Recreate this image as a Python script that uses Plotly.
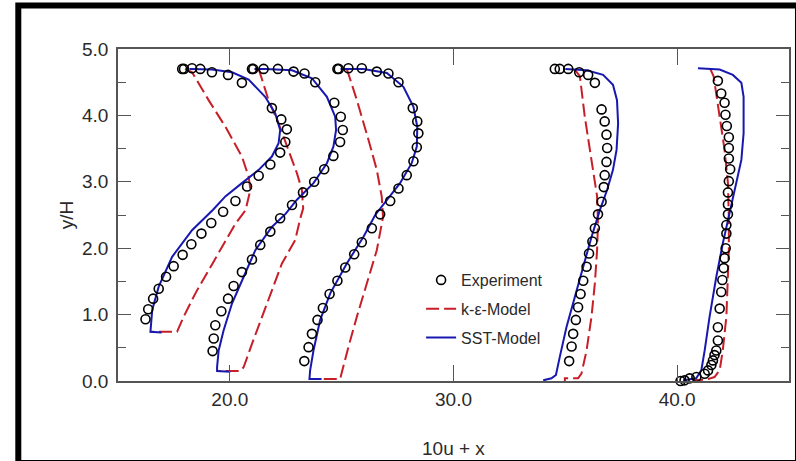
import plotly.graph_objects as go

# ---------------- data (10u + x , y/H) ----------------
exp1_x = [17.87, 17.95, 18.31, 18.68, 19.20, 19.92, 20.54, 21.88, 22.30, 22.55, 22.48, 22.25, 21.81, 21.29, 20.77, 20.25, 19.70, 19.17, 18.73, 18.28, 17.89, 17.49, 17.15, 16.82, 16.57, 16.35, 16.23]
exp1_y = [4.70, 4.70, 4.71, 4.70, 4.65, 4.61, 4.49, 4.11, 3.94, 3.79, 3.60, 3.44, 3.26, 3.09, 2.93, 2.71, 2.55, 2.38, 2.22, 2.06, 1.90, 1.73, 1.57, 1.39, 1.24, 1.08, 0.93]
sst1_x = [18.20, 19.20, 20.10, 20.84, 21.58, 22.03, 22.25, 22.18, 21.88, 21.29, 20.54, 19.80, 19.25, 18.80, 18.31, 17.42, 16.82, 16.53, 16.45, 16.45, 16.95]
sst1_y = [4.70, 4.69, 4.65, 4.54, 4.28, 4.03, 3.78, 3.58, 3.38, 3.18, 2.98, 2.78, 2.58, 2.43, 2.27, 1.87, 1.42, 1.07, 0.76, 0.74, 0.73]
ke1_x = [18.00, 18.31, 19.05, 19.80, 20.54, 20.84, 20.92, 20.70, 20.25, 19.65, 19.05, 18.46, 17.94, 17.64, 16.45]
ke1_y = [4.70, 4.65, 4.23, 3.83, 3.38, 3.08, 2.88, 2.57, 2.37, 2.02, 1.67, 1.32, 0.97, 0.74, 0.74]

exp2_x = [20.99, 21.05, 21.51, 22.15, 22.85, 23.34, 23.82, 24.67, 24.96, 25.05, 24.93, 24.63, 24.22, 23.77, 23.27, 22.78, 22.25, 21.81, 21.36, 20.99, 20.54, 20.17, 19.92, 19.62, 19.35, 19.28, 19.23]
exp2_y = [4.70, 4.70, 4.70, 4.70, 4.66, 4.63, 4.50, 4.19, 3.98, 3.78, 3.60, 3.39, 3.19, 3.00, 2.84, 2.65, 2.45, 2.25, 2.05, 1.83, 1.64, 1.43, 1.24, 1.05, 0.84, 0.64, 0.45]
sst2_x = [21.10, 21.60, 22.78, 23.67, 24.34, 24.71, 24.75, 24.63, 24.34, 23.74, 23.00, 22.50, 21.88, 21.14, 20.62, 20.10, 19.72, 19.50, 19.43, 19.43, 20.02]
sst2_y = [4.70, 4.70, 4.68, 4.56, 4.28, 3.98, 3.78, 3.53, 3.28, 2.98, 2.73, 2.52, 2.32, 1.97, 1.57, 1.17, 0.76, 0.46, 0.21, 0.15, 0.14]
ke2_x = [21.29, 21.73, 22.18, 22.63, 23.00, 23.22, 23.28, 23.15, 22.92, 22.33, 21.88, 21.44, 20.99, 20.62, 20.47, 19.43]
ke2_y = [4.70, 4.23, 3.88, 3.48, 3.13, 2.88, 2.60, 2.45, 2.12, 1.77, 1.37, 0.97, 0.56, 0.21, 0.15, 0.15]

exp3_x = [24.81, 24.87, 25.30, 25.90, 26.57, 27.09, 27.54, 28.18, 28.38, 28.43, 28.36, 28.21, 27.91, 27.54, 27.17, 26.72, 26.35, 25.90, 25.56, 25.16, 24.81, 24.46, 24.16, 23.92, 23.67, 23.52, 23.33]
exp3_y = [4.70, 4.70, 4.71, 4.71, 4.66, 4.63, 4.50, 4.11, 3.91, 3.73, 3.52, 3.31, 3.10, 2.90, 2.71, 2.51, 2.30, 2.09, 1.91, 1.71, 1.51, 1.31, 1.10, 0.92, 0.71, 0.51, 0.30]
sst3_x = [24.95, 25.97, 27.02, 27.76, 28.21, 28.38, 28.36, 28.13, 27.61, 27.02, 26.50, 25.97, 25.23, 24.49, 24.04, 23.74, 23.59, 23.56, 24.10]
sst3_y = [4.70, 4.70, 4.64, 4.43, 4.13, 3.83, 3.53, 3.28, 2.98, 2.73, 2.50, 2.17, 1.77, 1.32, 0.92, 0.46, 0.16, 0.03, 0.03]
ke3_x = [25.23, 25.68, 26.20, 26.57, 26.79, 26.85, 26.57, 26.12, 25.68, 25.30, 25.00, 24.93, 23.56]
ke3_y = [4.70, 4.23, 3.63, 3.18, 2.78, 2.47, 1.97, 1.47, 0.97, 0.51, 0.09, 0.03, 0.03]

exp4_x = [34.53, 34.75, 35.13, 35.62, 36.02, 36.32, 36.62, 36.76, 36.84, 36.87, 36.84, 36.76, 36.72, 36.62, 36.46, 36.32, 36.21, 36.06, 35.95, 35.80, 35.68, 35.57, 35.47, 35.35, 35.28, 35.17]
exp4_y = [4.70, 4.70, 4.70, 4.65, 4.61, 4.49, 4.09, 3.91, 3.71, 3.51, 3.30, 3.10, 2.92, 2.70, 2.51, 2.30, 2.10, 1.92, 1.72, 1.51, 1.31, 1.11, 0.92, 0.71, 0.52, 0.30]
sst4_x = [35.00, 35.95, 36.69, 37.13, 37.31, 37.36, 37.29, 37.13, 36.87, 36.54, 36.17, 35.80, 35.42, 35.05, 34.75, 34.58, 34.38, 34.01]
sst4_y = [4.70, 4.68, 4.61, 4.46, 4.23, 3.88, 3.48, 3.18, 2.88, 2.57, 2.17, 1.72, 1.27, 0.81, 0.36, 0.09, 0.04, 0.01]
ke4_x = [35.42, 35.65, 35.87, 36.09, 36.27, 36.42, 36.46, 36.42, 36.32, 36.17, 35.95, 35.72, 35.57, 34.98, 34.98]
ke4_y = [4.69, 4.59, 3.98, 3.48, 3.08, 2.78, 2.37, 1.97, 1.47, 0.97, 0.46, 0.11, 0.04, 0.04, 0.00]

exp5_x = [41.82, 41.97, 42.12, 42.16, 42.22, 42.31, 42.31, 42.31, 42.37, 42.31, 42.27, 42.27, 42.27, 42.20, 42.20, 42.17, 42.12, 42.08, 42.02, 41.97, 41.90, 41.82, 41.82, 41.75, 41.67, 41.60, 41.53, 41.38, 41.23, 40.86, 40.56, 40.33, 40.15]
exp5_y = [4.52, 4.33, 4.19, 4.01, 3.84, 3.67, 3.51, 3.35, 3.19, 3.01, 2.84, 2.66, 2.51, 2.35, 2.22, 2.00, 1.85, 1.70, 1.52, 1.34, 1.09, 0.81, 0.61, 0.46, 0.39, 0.31, 0.24, 0.16, 0.11, 0.06, 0.04, 0.01, 0.00]
sst5_x = [40.93, 41.90, 42.49, 42.87, 42.97, 42.97, 42.87, 42.64, 42.34, 42.04, 41.75, 41.45, 41.23, 41.08, 40.85, 40.26]
sst5_y = [4.71, 4.69, 4.61, 4.49, 4.28, 3.73, 3.33, 2.98, 2.57, 2.07, 1.57, 0.97, 0.46, 0.16, 0.04, 0.01]
ke5_x = [41.48, 41.63, 41.90, 42.12, 42.27, 42.31, 42.31, 42.27, 42.20, 42.04, 41.90, 41.67, 41.30, 40.70]
ke5_y = [4.70, 4.59, 3.98, 3.48, 2.98, 2.47, 1.97, 1.47, 0.97, 0.46, 0.16, 0.06, 0.02, 0.01]

exp_x = [exp1_x, exp2_x, exp3_x, exp4_x, exp5_x]
exp_y = [exp1_y, exp2_y, exp3_y, exp4_y, exp5_y]
sst_x = [sst1_x, sst2_x, sst3_x, sst4_x, sst5_x]
sst_y = [sst1_y, sst2_y, sst3_y, sst4_y, sst5_y]
ke_x = [ke1_x, ke2_x, ke3_x, ke4_x, ke5_x]
ke_y = [ke1_y, ke2_y, ke3_y, ke4_y, ke5_y]

x_ticks = [20, 30, 40]
x_ticklabels = ["20.0", "30.0", "40.0"]
y_ticks = [0, 1, 2, 3, 4, 5]
y_ticklabels = ["0.0", "1.0", "2.0", "3.0", "4.0", "5.0"]
names = ["Experiment", "k-ε-Model", "SST-Model"]

# ---------------- styles ----------------
FONT = "Liberation Sans, Arial, sans-serif"
TXT = "#2a2a2a"
RED = "#c81e28"
BLUE = "#1818b0"
AX = "#555555"
marker_style = dict(symbol="circle-open", size=9, color="black", line=dict(width=1.6))
ke_line = dict(color=RED, width=2, dash="13px,5px")
sst_line = dict(color=BLUE, width=2)

fig = go.Figure()

# legend entries (in legend order)
fig.add_trace(go.Scatter(x=[None], y=[None], mode="markers", marker=marker_style,
                         name=names[0], legendgroup="g1"))
fig.add_trace(go.Scatter(x=[None], y=[None], mode="lines", line=ke_line,
                         name=names[1], legendgroup="g2"))
fig.add_trace(go.Scatter(x=[None], y=[None], mode="lines", line=sst_line,
                         name=names[2], legendgroup="g3"))

for i in range(5):
    fig.add_trace(go.Scatter(x=ke_x[i], y=ke_y[i], mode="lines", line=ke_line,
                             showlegend=False, hoverinfo="skip"))
for i in range(5):
    fig.add_trace(go.Scatter(x=sst_x[i], y=sst_y[i], mode="lines", line=sst_line,
                             showlegend=False, hoverinfo="skip"))
for i in range(5):
    fig.add_trace(go.Scatter(x=exp_x[i], y=exp_y[i], mode="markers", marker=marker_style,
                             showlegend=False, cliponaxis=False, hoverinfo="skip"))

W, H = 796, 461
ML, MR, MT, MB = 118, 5, 49, 80
PW, PH = W - ML - MR, H - MT - MB

def px(xp):
    return (xp - ML) / PW

def py(yp):
    return (H - MB - yp) / PH

fig.update_layout(
    width=W, height=H,
    margin=dict(l=ML, r=MR, t=MT, b=MB, pad=0),
    paper_bgcolor="white", plot_bgcolor="white",
    font=dict(family=FONT, size=19, color=TXT),
    showlegend=True,
    legend=dict(x=px(422), y=py(263), xanchor="left", yanchor="top",
                bgcolor="rgba(0,0,0,0)", font=dict(size=16, color=TXT),
                traceorder="grouped", tracegroupgap=5, itemwidth=30),
    xaxis=dict(range=[15, 45], tickvals=x_ticks, ticktext=x_ticklabels,
               ticks="inside", ticklen=16, tickwidth=1.3, tickcolor=AX,
               showline=True, linecolor=AX, linewidth=1.5, mirror="ticks",
               showgrid=False, zeroline=False, ticklabelstandoff=0),
    yaxis=dict(range=[0, 5], tickvals=y_ticks, ticktext=y_ticklabels,
               ticks="inside", ticklen=13, tickwidth=1.3, tickcolor=AX,
               minor=dict(dtick=0.5, ticks="inside", ticklen=8, tickwidth=1.3, tickcolor=AX),
               showline=True, linecolor=AX, linewidth=1.5, mirror="ticks",
               showgrid=False, zeroline=False, ticklabelstandoff=4),
    annotations=[
        dict(text="10u + x", xref="paper", yref="paper", x=px(455), y=py(448),
             xanchor="center", yanchor="middle", showarrow=False,
             font=dict(size=19, family=FONT, color=TXT)),
        dict(text="y/H", xref="paper", yref="paper", x=px(66), y=py(215),
             xanchor="center", yanchor="middle", showarrow=False, textangle=-90,
             font=dict(size=19, family=FONT, color=TXT)),
    ],
    shapes=[
        dict(type="rect", xref="paper", yref="paper",
             x0=px(18), x1=px(800), y0=py(463), y1=py(5.5),
             line=dict(color="black", width=6), fillcolor="rgba(0,0,0,0)"),
    ],
)

fig.write_html("out.html")
